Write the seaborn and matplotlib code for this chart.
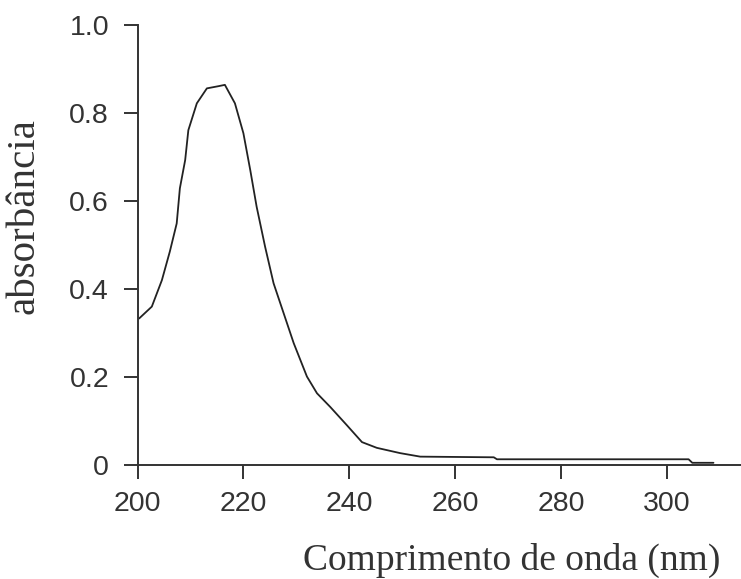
import matplotlib
matplotlib.use("Agg")
import matplotlib.pyplot as plt
import seaborn as sns
import pandas as pd

wavelength = [200.3, 202.7, 204.6, 206.1, 207.4, 208.0, 209.0, 209.6, 211.2, 213.1,
              215.3, 216.5, 218.4, 220.0, 221.3, 222.5, 224.1, 225.7, 227.6, 229.5,
              232.0, 233.9, 236.4, 239.5, 242.4, 245.2, 249.6, 253.4, 267.3, 267.9,
              304.1, 304.8, 308.8]
absorbance = [0.333, 0.360, 0.420, 0.485, 0.549, 0.629, 0.693, 0.761, 0.822, 0.856,
              0.861, 0.864, 0.822, 0.754, 0.670, 0.587, 0.496, 0.413, 0.345, 0.277,
              0.201, 0.163, 0.132, 0.091, 0.052, 0.039, 0.027, 0.019, 0.0175, 0.013,
              0.013, 0.005, 0.005]
x_ticks = [200, 220, 240, 260, 280, 300]
y_ticks = [0, 0.2, 0.4, 0.6, 0.8, 1.0]
y_tick_labels = ["0", "0.2", "0.4", "0.6", "0.8", "1.0"]

df = pd.DataFrame({"nm": wavelength, "abs": absorbance})

sns.set_style("ticks")
plt.rcParams["font.family"] = ["Liberation Sans", "DejaVu Sans"]

fig = plt.figure(figsize=(7.41, 5.79), dpi=100)
ax = fig.add_axes([0.1856, 0.1969, 1 - 0.1856, 0.9568 - 0.1969])

sns.lineplot(data=df, x="nm", y="abs", ax=ax, color="#222222", linewidth=1.3, sort=False)

ax.set_xlim(200, 314)
ax.set_ylim(0, 1.0)
ax.set_xticks(x_ticks)
ax.set_yticks(y_ticks)
ax.set_yticklabels(y_tick_labels)
sns.despine(ax=ax)
for s in ["left", "bottom"]:
    ax.spines[s].set_linewidth(1.4)
    ax.spines[s].set_color("#333333")
ax.tick_params(axis="both", length=10, width=1.4, color="#333333",
               labelsize=20.5, labelcolor="#333333")
ax.tick_params(axis="y", pad=10.5)
ax.tick_params(axis="x", pad=9)

serif = ["Liberation Serif", "DejaVu Serif"]
ax.set_xlabel("Comprimento de onda (nm)", family=serif, fontsize=27, color="#333333", ha="right")
ax.xaxis.set_label_coords((720 - 137.5) / (741 - 137.5), -0.178)
ax.set_ylabel("absorbância", family=serif, fontsize=29.5, color="#333333")
ax.yaxis.set_label_coords(-0.157, 0.565)

fig.savefig("out.png", dpi=100)
